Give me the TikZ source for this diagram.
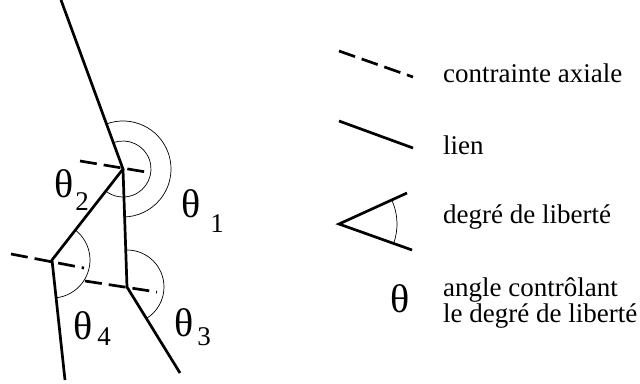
\documentclass[tikz,border=0pt]{standalone}
\usepackage{fontspec}
\setmainfont{Liberation Serif}
\usepackage{tikz}
\usetikzlibrary{positioning,calc}

\begin{document}
\begin{tikzpicture}[
  x=1pt,y=-1pt,
  font=\fontsize{27}{27}\selectfont,
  lien/.style={draw=black,line width=2.7pt},
  contrainte/.style={draw=black,line width=2.7pt,dash pattern=on 17pt off 7pt},
  arcangle/.style={draw=black,line width=0.7pt},
  legend/.style={anchor=base west,inner sep=0pt,align=left},
  angletxt/.style={inner sep=0pt,font=\fontsize{40}{40}\selectfont},
  subtxt/.style={inner sep=0pt,font=\fontsize{27}{27}\selectfont}
]
  \useasboundingbox (0,0) rectangle (640,383);
  % points of the chain
  \coordinate (top) at (61,0);
  \coordinate (j1) at (123,169);
  \coordinate (j2) at (52,260);
  \coordinate (j3) at (127,287);
  \coordinate (end4) at (65,380);
  \coordinate (end3) at (180,373);

  \draw[lien] (top) -- (j1) -- (j2) -- (end4);
  \draw[lien] (j1) -- (j3) -- (end3);

  \coordinate (c1a) at (80,161);
  \coordinate (c1b) at (146,172);
  \coordinate (c2a) at (11,254);
  \coordinate (c2b) at (84,268);
  \coordinate (c3a) at (85,281);
  \coordinate (c3b) at (157,292);
  \draw[contrainte] (c1a) -- (c1b);
  \draw[contrainte] (c2a) -- (c2b);
  \draw[contrainte] (c3a) -- (c3b);

  % arcs
  \draw[arcangle] (j1) ++(-110:28) arc[start angle=-110,end angle=128,radius=28];
  \draw[arcangle] (j1) ++(-110:48) arc[start angle=-110,end angle=90,radius=48];
  \draw[arcangle] (j2) ++(-52:38) arc[start angle=-52,end angle=84,radius=38];
  \draw[arcangle] (j3) ++(-90:37) arc[start angle=-90,end angle=58,radius=37];

  \node[angletxt] (t1) at (191,204) {θ};
  \node[subtxt] (s1) at (217,224) {1};
  \node[angletxt] (t2) at (64,184) {θ};
  \node[subtxt] (s2) at (82,202) {2};
  \node[angletxt] (t3) at (184,323) {θ};
  \node[subtxt] (s3) at (204,337) {3};
  \node[angletxt] (t4) at (83,326) {θ};
  \node[subtxt] (s4) at (104,337) {4};

  % legend
  \coordinate (la) at (339,51);
  \coordinate (lb) at (413,77);
  \draw[contrainte] (la) -- (lb);
  \node[legend] (l1) at (443,82) {contrainte axiale};
  \coordinate (lc) at (339,121);
  \coordinate (ld) at (413,148);
  \draw[lien] (lc) -- (ld);
  \node[legend] (l2) at (443,154) {lien};
  \coordinate (le) at (339,224);
  \coordinate (lf) at (407,193);
  \coordinate (lg) at (412,250);
  \draw[lien] (lf) -- (le) -- (lg);
  \draw[arcangle] (le) ++(-24:58) arc[start angle=-24,end angle=20,radius=58];
  \node[legend] (l3) at (443,223) {degré de liberté};
  \node[angletxt] (t5) at (400,299) {θ};
  \node[legend,anchor=west,font=\fontsize{27}{24}\selectfont] (l4) at (443,303) {angle contrôlant\\le degré de liberté};
\end{tikzpicture}
\end{document}
